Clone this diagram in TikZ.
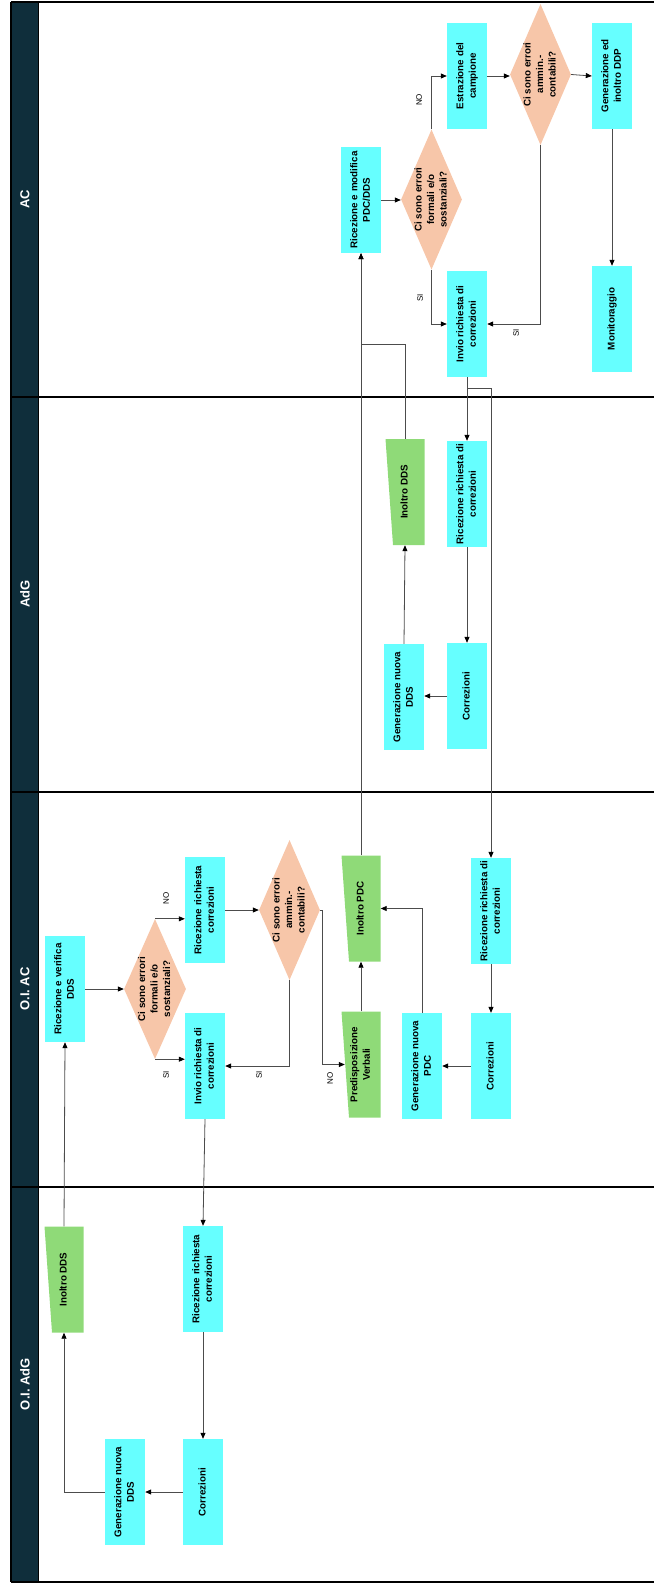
\documentclass[tikz,border=0pt]{standalone}
\usepackage{fontspec}
\setmainfont{Liberation Sans}
\usepackage{graphicx}
\usetikzlibrary{shapes.geometric,arrows.meta,calc}
\definecolor{cyanA}{HTML}{66FFFF}
\definecolor{peachA}{HTML}{F7C6A9}
\definecolor{greenA}{HTML}{8FDA78}
\definecolor{headA}{HTML}{0F2E3B}
\newcommand\rtxt[1]{\rotatebox{90}{\begin{tabular}{@{}c@{}}#1\end{tabular}}}
\newcommand\bxfont{\bfseries\fontsize{9.8}{12.5}\selectfont}
\begin{document}
\begin{tikzpicture}[x=1pt,y=-1pt,
 box/.style={fill=cyanA, minimum width=40pt, minimum height=106pt, inner sep=0pt, font=\bxfont},
 man/.style={minimum width=39pt, minimum height=106pt, inner sep=0pt, font=\bxfont,
   path picture={\fill[greenA] (path picture bounding box.north west) -- (path picture bounding box.north east) -- (path picture bounding box.south east) -- ([xshift=7.5pt]path picture bounding box.south west) -- cycle;}},
 dia/.style={diamond, fill=peachA, inner sep=0pt, minimum width=61pt, minimum height=140pt},
 dtxt/.style={inner sep=0pt, font=\bxfont},
 arr/.style={draw=black!70, line width=0.8pt, -{Triangle[length=6pt,width=5pt,color=black]}},
 ln/.style={draw=black!70, line width=0.8pt},
 lab/.style={font=\fontsize{8}{9}\selectfont, rotate=90, inner sep=0pt},
 lane/.style={line width=1.2pt, draw=black},
 head/.style={text=white, font=\bfseries\fontsize{13}{15}\selectfont, rotate=90, inner sep=0pt}
]
\useasboundingbox (0,0) rectangle (654,1584);
% lanes
\fill[headA] (11,2) rectangle (38.5,1582);
\draw[lane] (11,2) -- (654,2);
\draw[lane] (11,397) -- (654,397);
\draw[lane] (11,792) -- (654,792);
\draw[lane] (11,1187) -- (654,1187);
\draw[lane] (11,1582) -- (654,1582);
\draw[lane] (11,2) -- (11,1582);
\draw[lane] (38.5,2) -- (38.5,1582);
\node[head] (hAC) at (25,199) {AC};
\node[head] (hAdG) at (25,594) {AdG};
\node[head] (hOIAC) at (25,989) {O.I. AC};
\node[head] (hOIAdG) at (25,1384) {O.I. AdG};

% AC lane
\node[box] (rmod) at (361,200) {\rtxt{Ricezione e modifica\\PDC/DDS}};
\node[dia] (d1) at (431.5,199.5) {};
\node[dtxt] (d1t) at (d1) {\rtxt{Ci sono errori\\formali e/o\\sostanziali?}};
\node[box] (estr) at (467,76) {\rtxt{Estrazione del\\campione}};
\node[dia, minimum height=141pt] (d2) at (540.5,74.5) {};
\node[dtxt] (d2t) at (d2) {\rtxt{Ci sono errori\\ammin.-\\contabili?}};
\node[box] (gen) at (612,76) {\rtxt{Generazione ed\\inoltro DDP}};
\node[box] (invio) at (467,324) {\rtxt{Invio richiesta di\\correzioni}};
\node[box] (moni) at (612,319) {\rtxt{Monitoraggio}};

% AdG lane
\node[man] (idds2) at (405,492) {\rtxt{Inoltro DDS}};
\node[box] (rrc2) at (467,494) {\rtxt{Ricezione richiesta di\\correzioni}};
\node[box] (gnd2) at (404,697) {\rtxt{Generazione nuova\\DDS}};
\node[box] (cor2) at (467,696) {\rtxt{Correzioni}};

% O.I. AC lane
\node[box] (rver) at (65,989) {\rtxt{Ricezione e verifica\\DDS}};
\node[dia, minimum width=62pt] (d3) at (155,989) {};
\node[dtxt] (d3t) at (d3) {\rtxt{Ci sono errori\\formali e/o\\sostanziali?}};
\node[box] (rrc3a) at (205,910) {\rtxt{Ricezione richiesta\\correzioni}};
\node[box] (inv3) at (205,1066) {\rtxt{Invio richiesta di\\correzioni}};
\node[dia] (d4) at (289.5,910) {};
\node[dtxt] (d4t) at (d4) {\rtxt{Ci sono errori\\ammin.-\\contabili?}};
\node[man] (ipdc) at (361,908.5) {\rtxt{Inoltro PDC}};
\node[man] (pver) at (361,1064.5) {\rtxt{Predisposizione\\Verbali}};
\node[box] (gnp) at (422,1066) {\rtxt{Generazione nuova\\PDC}};
\node[box] (rrc3) at (491,911) {\rtxt{Ricezione richiesta di\\correzioni}};
\node[box] (cor3) at (491,1066) {\rtxt{Correzioni}};

% O.I. AdG lane
\node[man] (idds4) at (64,1279.5) {\rtxt{Inoltro DDS}};
\node[box] (rrc4) at (203,1279) {\rtxt{Ricezione richiesta\\correzioni}};
\node[box] (gnd4) at (125,1492) {\rtxt{Generazione nuova\\DDS}};
\node[box] (cor4) at (203,1492) {\rtxt{Correzioni}};

% connectors AC
\draw[arr] (rmod.east) -- (rmod.east -| d1.west);
\draw[arr] (d1.north) |- (estr.west);
\node[lab] (lno1) at (419,100) {NO};
\draw[arr] (d1.south) |- (invio.west);
\node[lab] (lsi1) at (420,298) {SI};
\draw[arr] (estr.east) -- (estr.east -| d2.west);
\draw[arr] (d2.east) -- (gen.west);
\draw[arr] (d2.south) |- (invio.east);
\node[lab] (lsi2) at (516,333) {SI};
\draw[arr] (gen) -- (moni);

% AC -> AdG / O.I. AC
\coordinate (br) at (467,388);
\draw[ln] (invio.south) -- (br);
\draw[arr] (br) -- (rrc2.north);
\draw[arr] (br) -| (rrc3.north);

% AdG
\draw[arr] (rrc2) -- (cor2);
\draw[arr] (cor2.west) -- (cor2.west -| gnd2.east);
\draw[arr] (gnd2.north) -- (idds2.south);
\draw[arr] (idds2.north) -- ++(0,-94) -| (rmod.south);

% O.I. AC
\draw[arr] (rver.east) -- (rver.east -| d3.west);
\draw[arr] (d3.north) -- (d3.north -| rrc3a.west);
\node[lab] (lno3) at (166,898) {NO};
\draw[arr] (d3.south) -- (d3.south -| inv3.west);
\node[lab] (lsi3) at (166,1075) {SI};
\draw[arr] (rrc3a.east) -- (rrc3a.east -| d4.west);
\draw[arr] (d4.south) |- (inv3.east);
\node[lab] (lsi4) at (259,1075) {SI};
\draw[arr] (d4.east) -- ++(2,0) |- ([xshift=3.5pt]pver.west);
\node[lab] (lno4) at (330,1078) {NO};
\draw[arr] (pver.north) -- (ipdc.south);
\draw[arr] (gnp.north) |- (ipdc.east);
\draw[arr] (ipdc.north) -- (rmod.south);
\draw[arr] (rrc3) -- (cor3);
\draw[arr] (cor3.west) -- (cor3.west -| gnp.east);
\draw[arr] (inv3.south) -- (rrc4.north);

% O.I. AdG
\draw[arr] (rrc4) -- (cor4);
\draw[arr] (cor4.west) -- (gnd4.east);
\draw[arr] (gnd4.west) -| (idds4.south);
\draw[arr] (idds4.north) -- (rver.south);
\end{tikzpicture}
\end{document}
